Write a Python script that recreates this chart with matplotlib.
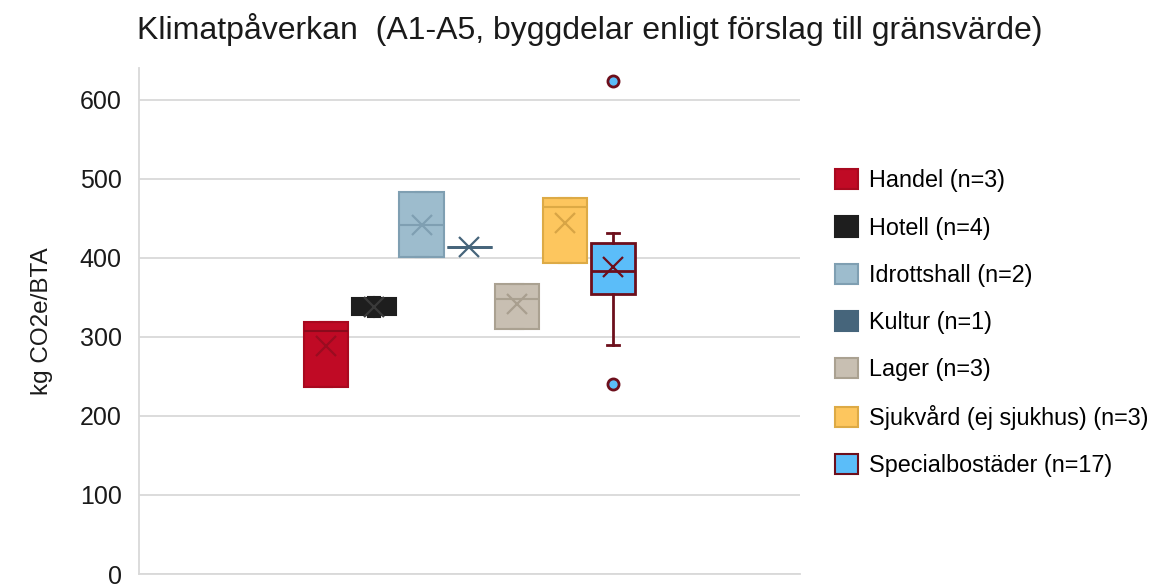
import matplotlib
matplotlib.use("Agg")
import matplotlib.pyplot as plt
from matplotlib.patches import Patch
import numpy as np

plt.rcParams['font.family'] = ['Liberation Sans', 'DejaVu Sans']

# data (kg CO2e/BTA)
categories = ["Handel", "Hotell", "Idrottshall", "Kultur", "Lager",
              "Sjukvård (ej sjukhus)", "Specialbostäder"]
handel = [237, 308, 319]
hotell = [325.7, 331, 343, 351]
idrottshall = [401, 483]
kultur = [414]
lager = [310, 348, 367]
sjukvard = [393, 464, 476]
specialbostader = [240, 289.5, 338, 350, 358.8, 368, 373.4, 378, 383.5,
                   392, 400.4, 408, 415, 422.2, 428, 431.6, 624]
series = [handel, hotell, idrottshall, kultur, lager, sjukvard, specialbostader]

fills = ["#c00a25", "#1e1e1e", "#9dbccd", "#46657b", "#c8bfb2", "#fdc65e", "#5bbdf9"]
edges = ["#a8091f", "#1e1e1e", "#7f9fb2", "#46657b", "#aaa191", "#ddaa45", "#6d0f1c"]
marks = ["#9a0c20", "#3a3a3a", "#7f9fb2", "#46657b", "#a99f8f", "#d8a545", "#6d0f1c"]


def excel_stats(vals, label):
    v = np.sort(np.asarray(vals, dtype=float))
    q1, med, q3 = np.percentile(v, [25, 50, 75], method="weibull")
    iqr = q3 - q1
    inside = v[(v >= q1 - 1.5 * iqr) & (v <= q3 + 1.5 * iqr)]
    return dict(label=label, q1=q1, med=med, q3=q3, mean=v.mean(),
                whislo=inside.min(), whishi=inside.max(),
                fliers=v[(v < inside.min()) | (v > inside.max())])


fig = plt.figure(figsize=(11.57, 5.84), dpi=100)
ax = fig.add_axes([0.1201, 0.0171, 0.5713, 0.8664])

for i, vals in enumerate(series):
    st = excel_stats(vals, categories[i])
    ew = 2.0 if i in (3, 6) else 1.5
    ax.bxp([st], positions=[i], widths=0.93, patch_artist=True,
           showmeans=False, showcaps=True,
           boxprops=dict(facecolor=fills[i], edgecolor=edges[i], linewidth=ew),
           medianprops=dict(color=edges[i] if i != 0 else "#8a0a1c", linewidth=ew),
           whiskerprops=dict(color=edges[i], linewidth=ew),
           capprops=dict(color=edges[i], linewidth=ew),
           flierprops=dict(marker="o", markersize=8, markerfacecolor=fills[i],
                           markeredgecolor=edges[i], markeredgewidth=2),
           capwidths=0.25, zorder=3)
    ax.plot(i, st["mean"], marker="x", markersize=14, mew=1.6,
            color=marks[i], zorder=4)

ax.set_xlim(-3.92, 9.92)
ax.set_ylim(0, 640)
ax.set_yticks(np.arange(0, 601, 100))
ax.set_xticks([])
ax.grid(axis="y", color="#d9d9d9", linewidth=1.3, zorder=0)
ax.set_axisbelow(True)
for s in ("top", "right"):
    ax.spines[s].set_visible(False)
for s in ("left", "bottom"):
    ax.spines[s].set_color("#d9d9d9")
    ax.spines[s].set_linewidth(1.3)
ax.tick_params(axis="y", length=0, labelsize=18, pad=12.5, labelcolor="#1a1a1a")
ax.set_ylabel("kg CO2e/BTA", fontsize=17.5, labelpad=19, color="#1a1a1a")

fig.text(590 / 1157, 1 - 30 / 584,
         "Klimatpåverkan  (A1-A5, byggdelar enligt förslag till gränsvärde)",
         ha="center", va="center", fontsize=23, color="#1a1a1a")

labels = ["Handel (n=3)", "Hotell (n=4)", "Idrottshall (n=2)", "Kultur (n=1)",
          "Lager (n=3)", "Sjukvård (ej sjukhus) (n=3)", "Specialbostäder (n=17)"]
handles = [Patch(facecolor=fills[i], edgecolor=edges[i], linewidth=1.5)
           for i in range(len(labels))]
fig.legend(handles, labels, loc="upper left",
           bbox_to_anchor=(826 / 1157, 1 - 160 / 584),
           frameon=False, fontsize=16.8, handlelength=0.95, handleheight=0.95,
           labelspacing=1.03, handletextpad=0.5, borderaxespad=0.0)

fig.savefig("out.png", dpi=100)
